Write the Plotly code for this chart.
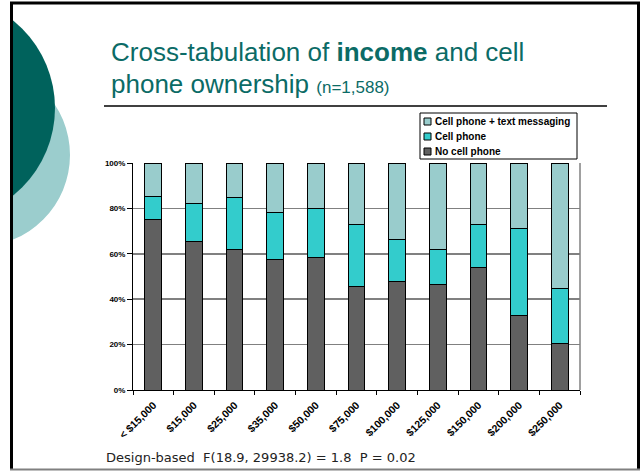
import plotly.graph_objects as go

# ---- data ----
categories = ["< $15,000", "$15,000", "$25,000", "$35,000", "$50,000", "$75,000",
              "$100,000", "$125,000", "$150,000", "$200,000", "$250,000"]
no_cell = [74.9, 65.6, 61.7, 57.3, 58.3, 45.4, 47.9, 46.5, 53.9, 32.7, 20.6]
cell_only = [10.3, 16.5, 23.3, 21.0, 21.6, 27.3, 18.2, 15.2, 19.1, 38.4, 24.2]
cell_text = [14.8, 17.9, 15.0, 21.7, 20.1, 27.3, 33.9, 38.3, 27.0, 28.9, 55.2]
series_names = ["No cell phone", "Cell phone", "Cell phone + text messaging"]
series_colors = ["#606060", "#33CCCC", "#99CCCC"]
y_ticks = [0, 20, 40, 60, 80, 100]

W, H = 640, 471
def px(x):
    return x / W
def py(y):
    return 1 - y / H

fig = go.Figure()
for name, vals, col in zip(series_names, [no_cell, cell_only, cell_text], series_colors):
    fig.add_trace(go.Bar(
        x=categories, y=vals, name=name,
        marker=dict(color=col, line=dict(color="black", width=1)),
    ))

tick_font = dict(family="Liberation Sans, Arial", size=8, color="black", weight="bold")

fig.update_layout(
    width=W, height=H, autosize=False,
    margin=dict(l=0, r=0, t=0, b=0, autoexpand=False),
    paper_bgcolor="white", plot_bgcolor="white",
    barmode="stack", bargap=0.59,
    showlegend=False,
    xaxis=dict(
        domain=[px(133), px(580)],
        automargin=False,
        tickangle=-45,
        tickfont=dict(family="Liberation Sans, Arial", size=10.5, color="black", weight="bold"),
        ticklabelstandoff=4,
        showline=True, linecolor="black", linewidth=1,
        ticks="outside", ticklen=4, tickcolor="black",
        tickson="boundaries",
        showgrid=False,
        fixedrange=True,
    ),
    yaxis=dict(
        domain=[py(390), py(163)],
        automargin=False,
        range=[0, 100],
        tickvals=y_ticks,
        ticktext=[f"{v}%" for v in y_ticks],
        tickfont=tick_font,
        showline=True, linecolor="black", linewidth=1,
        ticks="outside", ticklen=5, tickcolor="black",
        showgrid=True, gridcolor="#808080", gridwidth=1.5,
        zeroline=False,
        fixedrange=True,
    ),
)

shapes = []
# decorative circles
shapes.append(dict(type="circle", xref="paper", yref="paper",
                   x0=px(-112.6), x1=px(70), y0=py(246.3), y1=py(63.7),
                   fillcolor="#9BCDCD", line=dict(width=0), layer="above"))
shapes.append(dict(type="circle", xref="paper", yref="paper",
                   x0=px(-170.2), x1=px(55), y0=py(220.6), y1=py(-4.6),
                   fillcolor="#00625C", line=dict(width=0), layer="above"))
# white margin left of slide border
shapes.append(dict(type="rect", xref="paper", yref="paper",
                   x0=-0.5, x1=px(10), y0=-0.1, y1=1.1,
                   fillcolor="white", line=dict(width=0), layer="above"))
# slide border
shapes.append(dict(type="line", xref="paper", yref="paper", x0=px(11.5), x1=px(11.5), y0=py(469), y1=py(2),
                   line=dict(color="black", width=3), layer="above"))
shapes.append(dict(type="line", xref="paper", yref="paper", x0=px(10), x1=px(640), y0=py(3), y1=py(3),
                   line=dict(color="black", width=3), layer="above"))
shapes.append(dict(type="line", xref="paper", yref="paper", x0=px(638.5), x1=px(638.5), y0=py(469), y1=py(2),
                   line=dict(color="black", width=3), layer="above"))
shapes.append(dict(type="line", xref="paper", yref="paper", x0=px(10), x1=px(640), y0=py(469.5), y1=py(469.5),
                   line=dict(color="#808080", width=2), layer="above"))
# title underline
shapes.append(dict(type="line", xref="paper", yref="paper", x0=px(104), x1=px(607), y0=py(106), y1=py(106),
                   line=dict(color="black", width=1.5), layer="above"))
# right border of plot area
shapes.append(dict(type="line", xref="x domain", yref="y domain", x0=1, x1=1, y0=0, y1=1,
                   line=dict(color="#808080", width=1.5), layer="above"))

# legend box (drawn manually to match the compact original)
leg_left, leg_top, leg_right, leg_bottom = 420, 113, 577, 159
row_h = 15
shapes.append(dict(type="rect", xref="paper", yref="paper",
                   x0=px(leg_left), x1=px(leg_right), y0=py(leg_bottom), y1=py(leg_top),
                   fillcolor="white", line=dict(color="black", width=1), layer="above"))
legend_order = list(reversed(range(len(series_names))))
for row, idx in enumerate(legend_order):
    cy = leg_top + 8.5 + row * row_h
    shapes.append(dict(type="rect", xref="paper", yref="paper",
                       x0=px(leg_left + 4), x1=px(leg_left + 11),
                       y0=py(cy + 3.5), y1=py(cy - 3.5),
                       fillcolor=series_colors[idx], line=dict(color="black", width=1), layer="above"))
    fig.add_annotation(xref="paper", yref="paper", x=px(leg_left + 12.5), y=py(cy),
                       xanchor="left", yanchor="middle", showarrow=False,
                       text=series_names[idx],
                       font=dict(family="Liberation Sans, Arial", size=10, color="black", weight="bold"))
fig.update_layout(shapes=shapes)

title_color = "#0B6B66"
fig.add_annotation(xref="paper", yref="paper", x=px(109), y=py(52), xanchor="left", yanchor="middle",
                   showarrow=False,
                   text="Cross-tabulation of <b>income</b> and cell",
                   font=dict(family="Liberation Sans, Arial", size=26, color=title_color))
fig.add_annotation(xref="paper", yref="paper", x=px(109), y=py(84), xanchor="left", yanchor="middle",
                   showarrow=False,
                   text="phone ownership <span style='font-size:17px'>(n=1,588)</span>",
                   font=dict(family="Liberation Sans, Arial", size=26, color=title_color))
fig.add_annotation(xref="paper", yref="paper", x=px(104), y=py(457), xanchor="left", yanchor="middle",
                   showarrow=False,
                   text="Design-based  F(18.9, 29938.2) = 1.8  P = 0.02",
                   font=dict(family="DejaVu Sans", size=13, color="#222222"))

# remove the default page margin so the 640x471 figure fills the window exactly
fig.write_html("out.html",
               config={"displayModeBar": False, "staticPlot": True},
               post_script="document.body.style.margin='0';document.body.style.padding='0';"
                           "document.documentElement.style.overflow='hidden';")
